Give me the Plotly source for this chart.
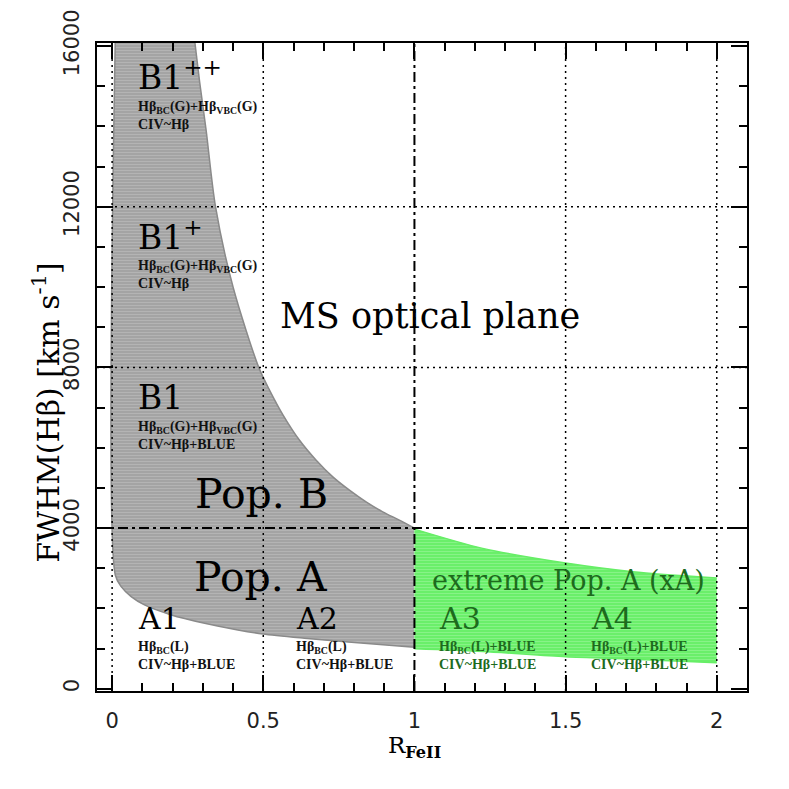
#!/usr/bin/env python3
"""Main-sequence optical plane: FWHM(Hbeta) vs R_FeII with populations A/B."""
import plotly.graph_objects as go

# boundary of the grey (Pop. A + Pop. B) region
UPPER_X = [0.272, 0.289, 0.311, 0.342, 0.400, 0.485, 0.521, 0.565,
           0.620, 0.675, 0.730, 0.785, 0.840, 0.895, 0.950, 1.000]
UPPER_Y = [16200, 15130, 13900, 12000, 10000, 8000, 7430, 6820,
           6186, 5690, 5275, 4944, 4653, 4405, 4199, 4000]
LOWER_X = [0.0105, 0.0105, 0.030, 0.063, 0.107, 0.196, 0.306, 0.416, 0.499,
           0.636, 0.802, 1.000]
LOWER_Y = [16200, 2832, 2542, 2293, 2087, 1839, 1632, 1466, 1366, 1260, 1150,
           1036]

# extreme Pop. A (green) band
XA_X = [1.000, 1.226, 1.500, 1.722, 2.000]
XA_TOP = [3975, 3495, 3130, 2914, 2757]
XA_BOTTOM = [994, 927, 795, 738, 646]

GRID_X = [0, 0.5, 1.5, 2]
GRID_Y = [8000, 12000]
SPLIT_X = 1.0
SPLIT_Y = 4000

GREY_BG = "#a2a2a2"
GREY_FG = "#c6c6c6"
GREEN_BG = "#66ee66"
GREEN_FG = "#a8f8a8"
DARK_GREEN = "#1d6b1d"
SERIF = "DejaVu Serif"
SMALL = "Liberation Serif"

fig = go.Figure()


def band(xs, lo, hi, bg, fg, edge):
    # lower edge first, then upper edge filled down to it
    fig.add_trace(go.Scatter(
        x=xs[0], y=lo, mode="lines", line=dict(color=edge, width=1.5,
                                               shape="spline", smoothing=0.8),
        hoverinfo="skip", showlegend=False,
    ))
    fig.add_trace(go.Scatter(
        x=xs[1], y=hi, mode="lines", fill="tonexty", fillcolor=bg,
        fillpattern=dict(shape="-", bgcolor=bg, fgcolor=fg, size=3,
                         solidity=0.4),
        line=dict(color=edge, width=1.5, shape="spline", smoothing=0.8),
        hoverinfo="skip", showlegend=False,
    ))


band((LOWER_X, UPPER_X), LOWER_Y, UPPER_Y, GREY_BG, GREY_FG, "#8a8a8a")
band((XA_X, XA_X), XA_BOTTOM, XA_TOP, GREEN_BG, GREEN_FG, GREEN_BG)

dotted = dict(color="black", width=1.5, dash="2px,4px")
dashdot = dict(color="black", width=2, dash="10px,4px,3px,4px")
shapes = []
for gx in GRID_X:
    shapes.append(dict(type="line", xref="x", yref="paper", x0=gx, x1=gx,
                       y0=0, y1=1, line=dotted, layer="above"))
for gy in GRID_Y:
    shapes.append(dict(type="line", xref="paper", yref="y", x0=0, x1=1,
                       y0=gy, y1=gy, line=dotted, layer="above"))
shapes.append(dict(type="line", xref="x", yref="paper", x0=SPLIT_X, x1=SPLIT_X,
                   y0=0, y1=1, line=dashdot, layer="above"))
shapes.append(dict(type="line", xref="paper", yref="y", x0=0, x1=1,
                   y0=SPLIT_Y, y1=SPLIT_Y, line=dashdot, layer="above"))

G_LINE = "<b>Hβ<sub>BC</sub>(G)+Hβ<sub>VBC</sub>(G)</b>"
L_LINE = "<b>Hβ<sub>BC</sub>(L)</b>"
LB_LINE = "<b>Hβ<sub>BC</sub>(L)+BLUE</b>"


def label(x, y, text, size, color="black", family=SERIF, xanchor="left"):
    return dict(x=x, y=y, xref="x", yref="y", text=text, showarrow=False,
                xanchor=xanchor, yanchor="middle", align="left",
                font=dict(family=family, size=size, color=color))


annotations = [
    label(0.08, 15260, "B1<sup>++</sup>", 33),
    label(0.08, 14280, G_LINE + "<br><b>CIV~Hβ</b>", 14, "#111", SMALL),
    label(0.08, 11275, "B1<sup>+</sup>", 33),
    label(0.08, 10310, G_LINE + "<br><b>CIV~Hβ</b>", 14, "#111", SMALL),
    label(0.08, 7245, "B1", 33),
    label(0.08, 6310, G_LINE + "<br><b>CIV~Hβ+BLUE</b>", 14, "#111", SMALL),
    label(0.494, 4850, "Pop. B", 41, xanchor="center"),
    label(0.491, 2795, "Pop. A", 41, xanchor="center"),
    label(0.08, 1745, "A1", 30),
    label(0.08, 830, L_LINE + "<br><b>CIV~Hβ+BLUE</b>", 14, "#111", SMALL),
    label(0.603, 1745, "A2", 30),
    label(0.603, 830, L_LINE + "<br><b>CIV~Hβ+BLUE</b>", 14, "#111", SMALL),
    label(1.053, 2690, "extreme Pop. A (xA)", 27, DARK_GREEN),
    label(1.076, 1745, "A3", 30, DARK_GREEN),
    label(1.076, 825, LB_LINE + "<br><b>CIV~Hβ+BLUE</b>", 14, DARK_GREEN, SMALL),
    label(1.579, 1745, "A4", 30, DARK_GREEN),
    label(1.579, 825, LB_LINE + "<br><b>CIV~Hβ+BLUE</b>", 14, DARK_GREEN, SMALL),
    label(1.053, 9275, "MS optical plane", 35, xanchor="center"),
    dict(x=1.0, y=-0.086, xref="x", yref="paper", showarrow=False,
         text="R<sub><b>FeII</b></sub>", xanchor="center", yanchor="middle",
         font=dict(family=SERIF, size=23, color="black")),
    dict(x=-0.078, y=0.43, xref="paper", yref="paper", showarrow=False,
         text="FWHM(Hβ) [km s<sup>-1</sup>]", textangle=-90,
         xanchor="center", yanchor="middle",
         font=dict(family=SERIF, size=30, color="black")),
]

axis_common = dict(
    showgrid=False, zeroline=False, showline=True, linecolor="black",
    linewidth=2, mirror="ticks", ticks="inside", ticklen=16, tickwidth=1.5,
    tickcolor="black", tickmode="linear", tick0=0, automargin=False,
    tickfont=dict(family="DejaVu Sans", size=21, color="#222"),
)

fig.update_layout(
    width=789, height=789,
    # the page body adds 8px, so the figure is nudged up-left to compensate
    margin=dict(l=89, r=50, t=35, b=106),
    paper_bgcolor="white", plot_bgcolor="white",
    showlegend=False,
    shapes=shapes,
    annotations=annotations,
    xaxis=dict(range=[-0.05, 2.1], dtick=0.5, ticklabelstandoff=10,
               minor=dict(tickmode="linear", tick0=0, dtick=0.1, ticks="inside",
                          ticklen=8, tickwidth=1.5, tickcolor="black"),
               **axis_common),
    yaxis=dict(range=[-55, 16075], dtick=4000, tickformat="d", tickangle=-90,
               ticklabelstandoff=8,
               minor=dict(tickmode="linear", tick0=0, dtick=1000, ticks="inside",
                          ticklen=8, tickwidth=1.5, tickcolor="black"),
               **axis_common),
)

fig.write_html("out.html")
